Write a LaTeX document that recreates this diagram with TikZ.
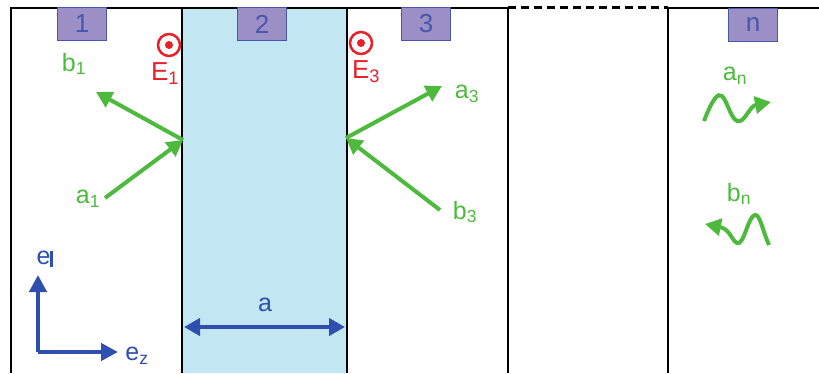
\documentclass[tikz,border=0pt]{standalone}
\usepackage{fontspec}
\setmainfont{Liberation Sans}
\usetikzlibrary{arrows.meta}
\definecolor{wgreen}{HTML}{4DBA3D}
\definecolor{ered}{HTML}{E8202A}
\definecolor{lblue}{HTML}{C2E7F2}
\definecolor{boxfill}{HTML}{9C8FC6}
\definecolor{boxedge}{HTML}{4657AE}
\definecolor{axblue}{HTML}{2F4FAF}
\tikzset{
  wall/.style={draw=black, line width=2.4pt},
  layerlabel/.style={draw=boxedge, fill=boxfill, line width=1.2pt, minimum width=49pt, minimum height=33pt, inner sep=0pt, text=boxedge, font=\fontsize{26}{27}\selectfont},
  wave/.style={draw=wgreen, line width=4pt, -{Triangle[length=16pt,width=17pt]}},
  glabel/.style={text=wgreen, font=\fontsize{25}{27}\selectfont, inner sep=1pt},
  elabel/.style={text=ered, font=\fontsize{26}{28}\selectfont, inner sep=1pt},
  axis/.style={draw=axblue, line width=4.5pt, -{Triangle[length=17pt,width=17pt]}},
  blabel/.style={text=axblue, font=\fontsize{25}{27}\selectfont, inner sep=1pt},
}
\begin{document}
\begin{tikzpicture}[x=1pt,y=-1pt]
\useasboundingbox (0,0) rectangle (819,373);
% layer 2 fill
\fill[lblue] (182,8) rectangle (347,373);
% walls
\draw[wall] (11,373) -- (11,8) -- (508,8);
\draw[wall] (182,8) -- (182,373);
\draw[wall] (347,8) -- (347,373);
\draw[wall] (508,8) -- (508,373);
\draw[wall] (668,373) -- (668,8) -- (819,8);
\draw[wall, line width=3pt, dash pattern=on 8pt off 5pt] (508,7) -- (668,7);
% layer labels
\node[layerlabel] (L1) at (82,24) {1};
\node[layerlabel] (L2) at (262,24) {2};
\node[layerlabel] (L3) at (426,24) {3};
\node[layerlabel] (Ln) at (753,25) {n};
% E-field symbols
\node[draw=ered, line width=2.5pt, circle, minimum size=22pt, inner sep=0pt] (E1c) at (169,45) {};
\fill[ered] (E1c.center) circle (4pt);
\node[draw=ered, line width=2.5pt, circle, minimum size=22pt, inner sep=0pt] (E3c) at (361,43) {};
\fill[ered] (E3c.center) circle (4pt);
\node[elabel] (E1) at (165,74) {E\textsubscript{1}};
\node[elabel] (E3) at (366,72) {E\textsubscript{3}};
% interface points
\coordinate (I1) at (183,140);
\coordinate (I3) at (346,138);
% green plane-wave arrows
\node[glabel] (b1) at (74,64) {b\textsubscript{1}};
\node[glabel] (a1) at (88,199) {a\textsubscript{1}};
\node[glabel] (a3) at (467,94) {a\textsubscript{3}};
\node[glabel] (b3) at (465,212) {b\textsubscript{3}};
\coordinate (b1t) at (96,92);
\coordinate (a1s) at (105,198);
\coordinate (a3t) at (442,86);
\coordinate (b3s) at (440,210);
\draw[wave] (I1) -- (b1t);
\draw[wave] (a1s) -- (I1);
\draw[wave] (I3) -- (a3t);
\draw[wave] (b3s) -- (I3);
% layer n waves
\node[glabel] (an) at (735,76) {a\textsubscript{n}};
\node[glabel] (bn) at (739,194) {b\textsubscript{n}};
\coordinate (ans) at (704,121);
\coordinate (ane) at (771,102);
\coordinate (bns) at (769,245);
\coordinate (bne) at (705,224);
\draw[wave] (ans) .. controls (712,100) and (718,92) .. (722,96)
  .. controls (728,102) and (732,124) .. (740,121)
  .. controls (746,119) and (750,106) .. (ane);
\draw[wave] (bns) .. controls (763,232) and (760,214) .. (755,215)
  .. controls (748,216) and (744,246) .. (737,243)
  .. controls (732,241) and (730,229) .. (bne);
% axes
\coordinate (O) at (38,352);
\coordinate (Yt) at (38,275);
\coordinate (Xt) at (118,352);
\draw[axis] (O) -- (Yt);
\draw[axis] (O) -- (Xt);
\node[blabel] (epar) at (45,259) {e\rule[-3pt]{3pt}{16pt}};
\node[blabel] (ez) at (137,356) {e\textsubscript{z}};
% dimension a
\coordinate (dl) at (184,327);
\coordinate (dr) at (345,327);
\draw[draw=axblue, line width=4pt, {Triangle[length=16pt,width=17pt]}-{Triangle[length=16pt,width=17pt]}] (dl) -- (dr);
\node[blabel] (alab) at (265,305) {a};
\end{tikzpicture}
\end{document}
